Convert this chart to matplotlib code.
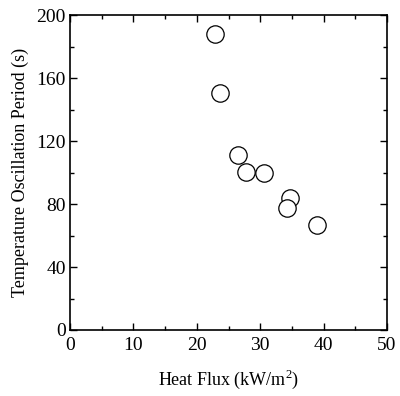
import matplotlib
matplotlib.use("Agg")
import matplotlib.pyplot as plt
from matplotlib.ticker import MultipleLocator

plt.rcParams["font.family"] = ["Liberation Serif", "DejaVu Serif"]
plt.rcParams["mathtext.fontset"] = "custom"
plt.rcParams["mathtext.rm"] = "Liberation Serif"

# Heat flux (kW/m^2) vs temperature oscillation period (s)
heat_flux = [22.9, 23.6, 26.5, 27.7, 30.6, 34.7, 34.3, 39.0]
period = [187.7, 150.3, 111.0, 100.1, 100.0, 83.8, 77.3, 66.7]

fig = plt.figure(figsize=(4.0, 3.96), dpi=100)
ax = fig.add_axes([70 / 400, 66 / 396, 317 / 400, 315 / 396])

ax.plot(heat_flux, period, "o", ms=12.5, mfc="white", mec="black", mew=0.9)

ax.set_xlim(0, 50)
ax.set_ylim(0, 200)
ax.xaxis.set_major_locator(MultipleLocator(10))
ax.xaxis.set_minor_locator(MultipleLocator(5))
ax.yaxis.set_major_locator(MultipleLocator(40))
ax.yaxis.set_minor_locator(MultipleLocator(20))
ax.tick_params(which="both", direction="in", top=True, right=True,
               labelsize=14, width=1.0)
ax.tick_params(which="major", length=5, pad=3)
ax.tick_params(axis="x", which="major", pad=5)
ax.tick_params(which="minor", length=3)
for s in ax.spines.values():
    s.set_linewidth(1.2)

ax.set_xlabel(r"Heat Flux (kW/m$^2$)", fontsize=13, labelpad=10)
ax.set_ylabel("Temperature Oscillation Period (s)", fontsize=13, labelpad=5)

fig.savefig("out.png", dpi=100)
